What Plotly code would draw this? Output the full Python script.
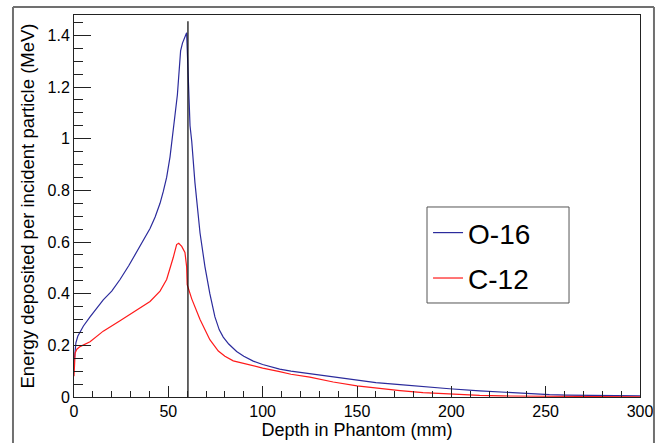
import plotly.graph_objects as go

# ---- data ----
depth_o16 = [0, 0.5, 1, 2, 3, 5, 8.5, 12, 15.5, 20, 24.4, 29, 33.2, 37, 40.3, 43,
             45.6, 47.3, 49.1, 50.9, 52, 53.5, 54.8, 55.6, 56.5, 57.5, 58.8, 59.7,
             60.3, 60.8, 61.5, 62.4, 64.1, 66.8, 69.4, 72, 74.7, 77, 79.1, 82, 86.2,
             90, 95, 100, 109, 115, 125, 132, 137.4, 150, 160, 172.8, 185, 199, 215,
             227.5, 243, 252, 261, 275, 290, 300]
edep_o16 = [0.13, 0.19, 0.21, 0.235, 0.25, 0.275, 0.31, 0.345, 0.376, 0.41, 0.455,
            0.508, 0.56, 0.608, 0.652, 0.697, 0.75, 0.795, 0.85, 0.93, 0.99, 1.09,
            1.17, 1.26, 1.34, 1.37, 1.397, 1.41, 1.29, 1.16, 1.05, 0.99, 0.83, 0.635,
            0.505, 0.40, 0.31, 0.26, 0.232, 0.205, 0.176, 0.158, 0.139, 0.126, 0.108,
            0.100, 0.090, 0.082, 0.077, 0.064, 0.056, 0.048, 0.040, 0.032, 0.024,
            0.018, 0.013, 0.009, 0.007, 0.005, 0.004, 0.004]

depth_c12 = [0, 0.3, 0.6, 1.5, 3.2, 8.5, 15.5, 24.4, 33.2, 40.3, 45.6, 49.1, 52.6,
             54.4, 55.5, 57.1, 58.8, 59.7, 60.0, 62.4, 66.8, 72, 76.5, 80, 84.4,
             91.5, 100, 109, 115, 125, 132, 137.4, 150, 160, 172.8, 185, 199, 215,
             227, 243, 260, 280, 300]
edep_c12 = [0.08, 0.12, 0.17, 0.185, 0.195, 0.214, 0.255, 0.295, 0.335, 0.37, 0.41,
            0.455, 0.54, 0.59, 0.595, 0.583, 0.56, 0.505, 0.435, 0.38, 0.30, 0.222,
            0.178, 0.158, 0.14, 0.126, 0.112, 0.098, 0.088, 0.077, 0.066, 0.058,
            0.043, 0.034, 0.025, 0.017, 0.011, 0.006, 0.004, 0.003, 0.002, 0.002,
            0.001]

series_names = ["O-16", "C-12"]
marker_depth = 60.4      # vertical marker line (mm)
marker_top = 1.455       # its top (MeV)

x_ticks = [0, 50, 100, 150, 200, 250, 300]
x_tick_labels = ["0", "50", "100", "150", "200", "250", "300"]
y_ticks = [0, 0.2, 0.4, 0.6, 0.8, 1.0, 1.2, 1.4]
y_tick_labels = ["0", "0.2", "0.4", "0.6", "0.8", "1", "1.2", "1.4"]

FONT = "Liberation Sans, Arial, Helvetica, sans-serif"

fig = go.Figure()
fig.add_trace(go.Scatter(x=depth_o16, y=edep_o16, mode="lines", name=series_names[0],
                         legendgroup="a", line=dict(color="#2b2b9c", width=1.2)))
fig.add_trace(go.Scatter(x=depth_c12, y=edep_c12, mode="lines", name=series_names[1],
                         legendgroup="b", line=dict(color="#ff1a1a", width=1.2)))
fig.add_trace(go.Scatter(x=[marker_depth, marker_depth], y=[0, marker_top], mode="lines",
                         showlegend=False, hoverinfo="skip",
                         line=dict(color="black", width=1.2)))

# outer gray canvas frame (left, top, right edges)
frame = dict(color="#707070", width=2)
fig.add_shape(type="line", xref="paper", yref="paper", x0=-0.1078, x1=-0.1078,
              y0=-0.3, y1=1.0209, line=frame, layer="above")
fig.add_shape(type="line", xref="paper", yref="paper", x0=-0.1078, x1=1.0247,
              y0=1.0209, y1=1.0209, line=frame, layer="above")
fig.add_shape(type="line", xref="paper", yref="paper", x0=1.0247, x1=1.0247,
              y0=-0.3, y1=1.0209, line=frame, layer="above")
# legend box
fig.add_shape(type="rect", xref="paper", yref="paper", x0=0.6237, x1=0.8746,
              y0=0.2461, y1=0.4974, line=dict(color="#555555", width=1),
              fillcolor="white", layer="above")

fig.update_layout(
    width=661, height=443,
    margin=dict(l=74, r=21, t=15, b=46, autoexpand=False),
    paper_bgcolor="white", plot_bgcolor="white",
    font=dict(family=FONT, color="black", size=16),
    showlegend=True,
    legend=dict(x=0.6255, y=0.495, xanchor="left", yanchor="top",
                bgcolor="rgba(0,0,0,0)", borderwidth=0,
                font=dict(family=FONT, size=28, color="black"),
                tracegroupgap=6, itemwidth=30),
    xaxis=dict(range=[0, 300], showgrid=False, zeroline=False, automargin=False,
               showline=True, linecolor="#222222", linewidth=1, mirror=True,
               ticks="inside", ticklen=11, tickcolor="#222222",
               tickvals=x_ticks, ticktext=x_tick_labels,
               tickfont=dict(size=16),
               minor=dict(ticks="inside", dtick=10, ticklen=6, tickcolor="#222222",
                          showgrid=False),
               title=dict(text="Depth in Phantom (mm)", font=dict(size=18), standoff=2)),
    yaxis=dict(range=[0, 1.479], showgrid=False, zeroline=False, automargin=False,
               showline=True, linecolor="#222222", linewidth=1, mirror=True,
               ticks="inside", ticklen=17, tickcolor="#222222",
               tickvals=y_ticks, ticktext=y_tick_labels,
               tickfont=dict(size=16),
               minor=dict(ticks="inside", dtick=0.05, ticklen=9, tickcolor="#222222",
                          showgrid=False),
               title=dict(text="Energy deposited per incident particle (MeV)",
                          font=dict(size=18.5), standoff=8)),
)

fig.write_html("out.html", config={"displayModeBar": False},
               post_script="document.body.style.margin='0';document.body.style.overflow='hidden';")
